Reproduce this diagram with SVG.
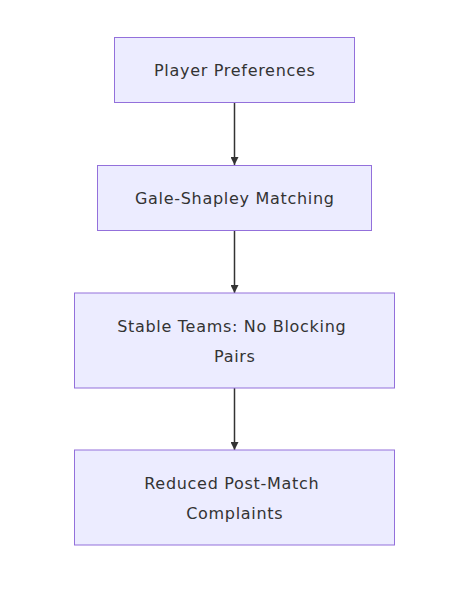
<svg xmlns="http://www.w3.org/2000/svg" width="464" height="616" viewBox="0 0 464 616">
<style>
.node rect{fill:#ECECFF;stroke:#9370DB;stroke-width:1px}
.node text{font-family:"DejaVu Sans",Verdana,sans-serif;font-size:16px;letter-spacing:0.7px;fill:#333333;text-anchor:middle}
.edge{stroke:#333333;stroke-width:1.5px;fill:none}
</style>
<defs>
<marker id="arrow" viewBox="0 0 10 10" refX="10" refY="5" markerWidth="8" markerHeight="8" markerUnits="userSpaceOnUse" orient="auto">
<path d="M0,0 L10,5 L0,10 z" fill="#333333"/>
</marker>
</defs>
<rect width="464" height="616" fill="#ffffff"/>
<g id="connectors">
<path class="edge" d="M234.5,103 L234.5,165" marker-end="url(#arrow)"/>
<path class="edge" d="M234.5,231 L234.5,293" marker-end="url(#arrow)"/>
<path class="edge" d="M234.5,388 L234.5,450" marker-end="url(#arrow)"/>
</g>
<g id="n1" class="node">
<rect x="114.5" y="37.5" width="240" height="65"/>
<text x="234.8" y="75.5">Player Preferences</text>
</g>
<g id="n2" class="node">
<rect x="97.5" y="165.5" width="274" height="65"/>
<text x="234.8" y="203.5">Gale-Shapley Matching</text>
</g>
<g id="n3" class="node">
<rect x="74.5" y="293" width="320" height="95"/>
<text x="231.8" y="331.5">Stable Teams: No Blocking</text>
<text x="234.8" y="361.5">Pairs</text>
</g>
<g id="n4" class="node">
<rect x="74.5" y="450" width="320" height="95"/>
<text x="231.8" y="488.5">Reduced Post-Match</text>
<text x="234.8" y="518.5">Complaints</text>
</g>
</svg>
